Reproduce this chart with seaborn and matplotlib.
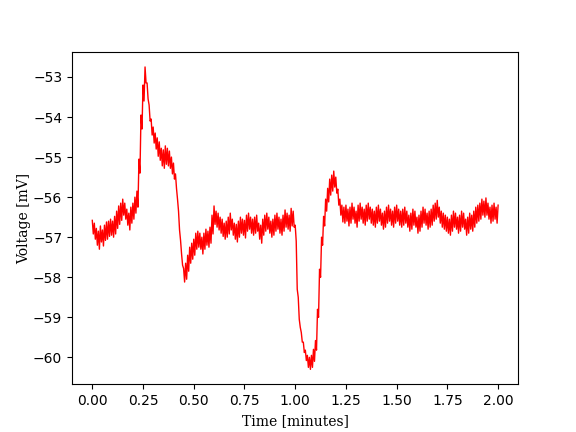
import numpy as np
import pandas as pd
import matplotlib
matplotlib.use("Agg")
import matplotlib.pyplot as plt
import seaborn as sns

# %% trace: upper / lower edge of the noise band, every 0.01 min
time_min = [round(i * 0.01, 2) for i in range(201)]

voltage_hi = [
    -56.58, -56.65, -56.78, -56.85, -56.72, -56.82, -56.70, -56.62, -56.60, -56.55,
    -56.60, -56.48, -56.35, -56.22, -56.15, -56.05, -56.15, -56.30, -56.40, -56.25,
    -56.15, -56.00, -55.85, -55.05, -53.95, -53.20, -52.75, -53.15, -53.70, -54.05,
    -54.25, -54.40, -54.52, -54.62, -54.78, -54.82, -54.72, -54.78, -54.85, -55.00,
    -55.15, -55.42, -56.05, -56.82, -57.42, -57.78, -57.65, -57.45, -57.25, -57.15,
    -57.05, -56.90, -56.85, -56.90, -57.00, -56.90, -56.80, -56.85, -56.75, -56.45,
    -56.22, -56.35, -56.40, -56.50, -56.55, -56.65, -56.60, -56.50, -56.40, -56.55,
    -56.65, -56.68, -56.60, -56.50, -56.55, -56.58, -56.45, -56.40, -56.50, -56.55,
    -56.50, -56.45, -56.65, -56.70, -56.55, -56.45, -56.40, -56.50, -56.60, -56.55,
    -56.45, -56.40, -56.50, -56.55, -56.45, -56.32, -56.40, -56.45, -56.28, -56.35,
    -56.70, -58.30, -59.05, -59.38, -59.62, -59.82, -59.95, -60.00, -59.95, -59.80,
    -59.58, -58.80, -57.80, -57.00, -56.48, -56.05, -55.78, -55.55, -55.45, -55.35,
    -55.50, -55.80, -56.05, -56.20, -56.25, -56.20, -56.30, -56.25, -56.15, -56.25,
    -56.35, -56.20, -56.15, -56.25, -56.30, -56.20, -56.15, -56.25, -56.30, -56.35,
    -56.25, -56.20, -56.30, -56.40, -56.35, -56.25, -56.20, -56.30, -56.35, -56.25,
    -56.20, -56.30, -56.35, -56.30, -56.25, -56.35, -56.45, -56.40, -56.30, -56.35,
    -56.50, -56.45, -56.35, -56.25, -56.30, -56.40, -56.35, -56.30, -56.20, -56.15,
    -56.08, -56.25, -56.35, -56.40, -56.45, -56.50, -56.55, -56.45, -56.35, -56.40,
    -56.50, -56.45, -56.35, -56.40, -56.55, -56.50, -56.40, -56.45, -56.35, -56.25,
    -56.20, -56.15, -56.05, -56.10, -56.02, -56.15, -56.25, -56.20, -56.15, -56.25,
    -56.20,
]

voltage_lo = [
    -56.92, -57.05, -57.20, -57.30, -57.12, -57.22, -57.08, -57.05, -56.98, -56.95,
    -57.00, -56.92, -56.78, -56.68, -56.58, -56.45, -56.55, -56.70, -56.82, -56.65,
    -56.55, -56.40, -56.25, -55.40, -54.30, -53.60, -53.15, -53.55, -54.10, -54.45,
    -54.65, -54.80, -54.98, -55.08, -55.22, -55.28, -55.18, -55.22, -55.28, -55.42,
    -55.55, -55.78, -56.35, -57.08, -57.70, -58.12, -58.05, -57.85, -57.65, -57.55,
    -57.45, -57.30, -57.25, -57.30, -57.42, -57.30, -57.20, -57.25, -57.15, -56.92,
    -56.68, -56.75, -56.82, -56.90, -56.98, -57.05, -57.00, -56.92, -56.82, -56.95,
    -57.05, -57.12, -57.00, -56.90, -56.95, -57.02, -56.85, -56.80, -56.90, -56.95,
    -56.90, -56.85, -57.05, -57.15, -56.95, -56.85, -56.80, -56.90, -57.00, -56.95,
    -56.85, -56.80, -56.90, -56.95, -56.85, -56.75, -56.80, -56.85, -56.72, -56.75,
    -57.10, -58.50, -59.25, -59.62, -59.88, -60.08, -60.25, -60.30, -60.25, -60.10,
    -59.82, -59.00, -58.00, -57.20, -56.72, -56.35, -56.12, -55.95, -55.85, -55.75,
    -55.90, -56.20, -56.45, -56.62, -56.65, -56.60, -56.72, -56.65, -56.55, -56.65,
    -56.75, -56.60, -56.55, -56.65, -56.70, -56.60, -56.55, -56.65, -56.70, -56.75,
    -56.65, -56.60, -56.70, -56.80, -56.75, -56.65, -56.60, -56.70, -56.75, -56.65,
    -56.60, -56.70, -56.75, -56.70, -56.65, -56.75, -56.85, -56.80, -56.70, -56.75,
    -56.90, -56.85, -56.75, -56.65, -56.70, -56.80, -56.75, -56.70, -56.60, -56.55,
    -56.50, -56.65, -56.75, -56.80, -56.85, -56.90, -56.95, -56.85, -56.75, -56.80,
    -56.90, -56.85, -56.75, -56.80, -56.95, -56.90, -56.80, -56.85, -56.75, -56.65,
    -56.60, -56.55, -56.45, -56.50, -56.45, -56.55, -56.65, -56.60, -56.55, -56.65,
    -56.60,
]

# %% interleave the two edges so the line zig-zags through the noise band
t = np.array(time_min)
trace = pd.DataFrame({
    "time": np.column_stack([t, t + 0.005]).ravel()[:-1],
    "voltage": np.column_stack([voltage_hi, voltage_lo]).ravel()[:-1],
})

# %% plot
fig, ax = plt.subplots(figsize=(5.76, 4.32), dpi=100)

sns.lineplot(data=trace, x="time", y="voltage", color="red",
             linewidth=1.0, estimator=None, ax=ax)

ax.set_xlabel("Time [minutes]", family="serif")
ax.set_ylabel("Voltage [mV]", family="serif", labelpad=1)
ax.set_xticks([0.0, 0.25, 0.5, 0.75, 1.0, 1.25, 1.5, 1.75, 2.0])

plt.savefig("out.png", dpi=100)
